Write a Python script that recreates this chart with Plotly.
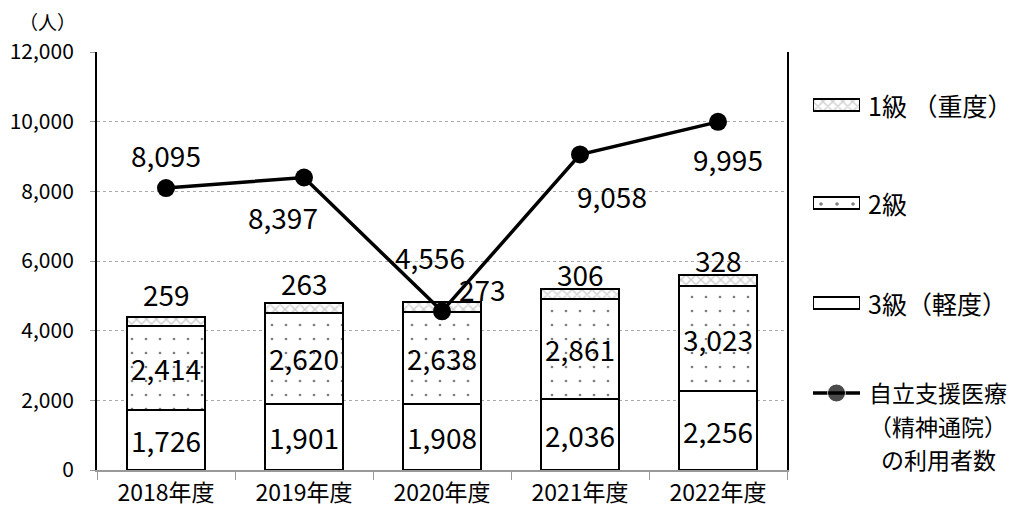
import plotly.graph_objects as go

years = ["2018年度", "2019年度", "2020年度", "2021年度", "2022年度"]
grade3 = [1726, 1901, 1908, 2036, 2256]
grade2 = [2414, 2620, 2638, 2861, 3023]
grade1 = [259, 263, 273, 306, 328]
users = [8095, 8397, 4556, 9058, 9995]
legend_names = ["1級 （重度）", "2級", "3級（軽度）"]
line_legend_lines = ["自立支援医療", "（精神通院）", "の利用者数"]

FONT = "Noto Sans CJK JP"
LBL = 28
W, H = 1011, 502
L, R, T, B = 89, 0, 44, 40
PW = W - L - R          # plot area width in px
PH = H - T - B          # plot area height in px
MAIN_W = 690            # main chart width in px


def fx(px):  # page x pixel -> paper fraction
    return (px - 8 - L) / PW


def fy(py):  # page y pixel -> paper fraction
    return (H - B + 8 - py) / PH


pat1 = dict(shape="x", fgcolor="#999", bgcolor="white", size=7, solidity=0.35)
pat2 = dict(shape=".", fgcolor="#000", bgcolor="white", size=14, solidity=0.03)
edge = dict(color="black", width=2)

fig = go.Figure()

fig.add_trace(go.Bar(
    x=years, y=grade3, name=legend_names[2], showlegend=False,
    marker=dict(color="white", line=edge),
    text=[f"{v:,}" for v in grade3], textposition="inside", insidetextanchor="middle",
    textfont=dict(size=LBL, color="black", family=FONT), constraintext="none",
))
fig.add_trace(go.Bar(
    x=years, y=grade2, name=legend_names[1], showlegend=False,
    marker=dict(color="white", line=edge, pattern=pat2),
    text=[f"{v:,}" for v in grade2], textposition="inside", insidetextanchor="middle",
    textfont=dict(size=LBL, color="black", family=FONT), constraintext="none",
))
fig.add_trace(go.Bar(
    x=years, y=grade1, name=legend_names[0], showlegend=False,
    marker=dict(color="white", line=edge, pattern=pat1),
))
fig.add_trace(go.Scatter(
    x=years, y=users, name="".join(line_legend_lines), showlegend=False,
    mode="lines+markers", line=dict(color="black", width=3.5),
    marker=dict(color="black", size=18),
))

# ---- custom legend (swatches on a hidden axis) ----
row_y = [fy(105), fy(203), fy(303), fy(393)]
sw_h = 12 / PH
fig.add_trace(go.Bar(x=[1], y=[row_y[0]], orientation="h", width=sw_h, xaxis="x2", yaxis="y2",
                     marker=dict(color="white", line=dict(color="black", width=1.5), pattern=pat1),
                     showlegend=False, hoverinfo="skip"))
fig.add_trace(go.Bar(x=[1], y=[row_y[1]], orientation="h", width=sw_h, xaxis="x2", yaxis="y2",
                     marker=dict(color="white", line=dict(color="black", width=1.5),
                                 pattern=dict(shape=".", fgcolor="#000", bgcolor="white", size=16, solidity=0.04)),
                     showlegend=False, hoverinfo="skip"))
fig.add_trace(go.Bar(x=[1], y=[row_y[2]], orientation="h", width=sw_h, xaxis="x2", yaxis="y2",
                     marker=dict(color="white", line=dict(color="black", width=1.5)),
                     showlegend=False, hoverinfo="skip"))
fig.add_trace(go.Scatter(x=[0, 0.5, 1], y=[row_y[3]] * 3, xaxis="x2", yaxis="y2",
                         mode="lines+markers", line=dict(color="black", width=3.5),
                         marker=dict(color="black", size=[0, 18, 0]),
                         showlegend=False, hoverinfo="skip"))
for i in range(3):
    fig.add_annotation(x=fx(866), y=row_y[i], xref="paper", yref="paper",
                       xanchor="left", yanchor="middle",
                       text=legend_names[i], showarrow=False,
                       font=dict(size=25, color="black", family=FONT))
for k, line in enumerate(line_legend_lines):
    fig.add_annotation(x=fx(938), y=fy(392 + 33.5 * k), xref="paper", yref="paper",
                       xanchor="center", yanchor="middle",
                       text=line, showarrow=False,
                       font=dict(size=23, color="black", family=FONT))

# 1級 labels above bars
g1_shift = [(0, 1), (0, -2), (40, -9), (0, -7), (0, -7)]
for i, yr in enumerate(years):
    total = grade3[i] + grade2[i] + grade1[i]
    dx, dy = g1_shift[i]
    fig.add_annotation(x=yr, y=total, text=f"{grade1[i]:,}", showarrow=False,
                       yanchor="bottom", xshift=dx, yshift=dy,
                       font=dict(size=LBL, color="black", family=FONT))

# line labels
user_offsets = [(0, 33), (-21, -39), (-12, 54), (32, -42), (10, -37)]
for i, yr in enumerate(years):
    dx, dy = user_offsets[i]
    fig.add_annotation(x=yr, y=users[i], text=f"{users[i]:,}", showarrow=False,
                       xshift=dx, yshift=dy,
                       font=dict(size=LBL, color="black", family=FONT))

fig.add_annotation(x=fx(47), y=fy(22), xref="paper", yref="paper",
                   xanchor="center", yanchor="middle",
                   text="（人）", showarrow=False, font=dict(size=19, color="black", family=FONT))

fig.update_layout(
    width=W, height=H,
    margin=dict(l=L, r=R, t=T, b=B, autoexpand=False),
    paper_bgcolor="white", plot_bgcolor="white",
    barmode="stack", bargap=0.44,
    font=dict(family=FONT, color="black"),
    showlegend=False,
    xaxis=dict(domain=[0, MAIN_W / PW], showline=True, linecolor="#999", linewidth=1.5,
               ticks="outside", tickson="boundaries", ticklen=8, tickcolor="#999",
               ticklabelstandoff=2, automargin=False,
               tickfont=dict(size=23, family=FONT, color="black")),
    yaxis=dict(range=[0, 12000], dtick=2000, tickformat=",",
               showline=True, linecolor="black", linewidth=2, mirror=True,
               ticks="outside", ticklen=5, tickcolor="#999", ticklabelstandoff=12,
               showgrid=True, gridcolor="#aaa", griddash="dot", gridwidth=1,
               automargin=False,
               tickfont=dict(size=21, family=FONT, color="black")),
    xaxis2=dict(domain=[fx(813), fx(860)], range=[0, 1], visible=False, fixedrange=True),
    yaxis2=dict(domain=[0, 1], range=[0, 1], visible=False, fixedrange=True, anchor="x2"),
)

fig.write_html("out.html")
